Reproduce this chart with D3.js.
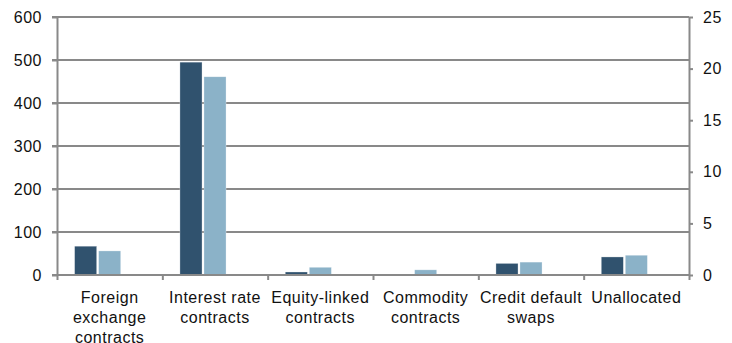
<!DOCTYPE html>
<html>
<head>
<meta charset="utf-8">
<script src="https://cdn.jsdelivr.net/npm/d3@7"></script>
<style>
  body { margin: 0; background: #fff; }
  svg text { font-family: "Liberation Sans", Arial, sans-serif; font-size: 16px; letter-spacing: 0.5px; fill: #111; }
  .axis path, .axis line { stroke: #898989; stroke-width: 2px; }
  .grid line { stroke: #898989; stroke-width: 2px; }
</style>
</head>
<body>
<div class="chart"></div>
<script>
const WIDTH = 732;
const HEIGHT = 343;

const LEFT = 57, RIGHT = 689, TOP = 17, BOTTOM = 275;

var categories = [
    ["Foreign", "exchange", "contracts"],
    ["Interest rate", "contracts"],
    ["Equity-linked", "contracts"],
    ["Commodity", "contracts"],
    ["Credit default", "swaps"],
    ["Unallocated"]
];
var seriesA = [67, 495, 7, 0, 27, 42];
var seriesB = [56, 461, 18, 12, 30, 46];
// third slot sits on the right axis and is empty in the picture
var seriesKeys = ["a", "b", "c"];
var colors = {a: "#30526e", b: "#8bb2c8"};

var leftTicks = [0, 100, 200, 300, 400, 500, 600];
var rightTicks = [0, 5, 10, 15, 20, 25];

var translate = function (x, y) {
    return "translate(" + x + "," + y + ")";
};

var _svg = d3.select('.chart').append('svg')
    .attr('width', WIDTH)
    .attr('height', HEIGHT);

var names = categories.map(function (c) { return c.join(" "); });

var x0 = d3.scaleBand().domain(names).range([LEFT, RIGHT]);
var x1 = d3.scaleBand().domain(seriesKeys)
    .range([17.6, x0.bandwidth() - 17.6])
    .paddingInner(0.08);
var yL = d3.scaleLinear().domain([0, 600]).range([BOTTOM, TOP]);
var yR = d3.scaleLinear().domain([0, 25]).range([BOTTOM, TOP]);

// gridlines
_svg.append('g').attr('class', 'grid')
    .selectAll('line').data(leftTicks.slice(1))
    .enter().append('line')
    .attr('x1', LEFT - 5).attr('x2', RIGHT)
    .attr('y1', yL).attr('y2', yL);

// bars
var rows = names.map(function (n, i) {
    return {name: n, vals: [{k: "a", v: seriesA[i]}, {k: "b", v: seriesB[i]}]};
});

var g = _svg.append('g');
g.selectAll('g').data(rows)
  .enter().append('g')
    .attr('transform', function (d) { return translate(x0(d.name), 0); })
  .selectAll('rect').data(function (d) { return d.vals; })
  .enter().append('rect')
    .attr('x', function (d) { return x1(d.k); })
    .attr('width', x1.bandwidth())
    .attr('y', function (d) { return yL(d.v); })
    .attr('height', function (d) { return BOTTOM - yL(d.v); })
    .attr('fill', function (d) { return colors[d.k]; })
    .attr('stroke', '#fff')
    .attr('stroke-opacity', 0.5)
    .attr('stroke-width', 0.6);

// left axis
_svg.append('g').attr('class', 'axis')
    .attr('transform', translate(LEFT, 0))
    .call(d3.axisLeft(yL).tickValues(leftTicks).tickSize(5).tickSizeOuter(0).tickPadding(10));

// right axis
_svg.append('g').attr('class', 'axis')
    .attr('transform', translate(RIGHT, 0))
    .call(d3.axisRight(yR).tickValues(rightTicks).tickSize(4).tickSizeOuter(0).tickPadding(10));

// bottom axis with boundary ticks
var xb = d3.scaleLinear().domain([0, names.length]).range([LEFT, RIGHT]);
var bottom = _svg.append('g').attr('class', 'axis')
    .attr('transform', translate(0, BOTTOM))
    .call(d3.axisBottom(xb).ticks(names.length).tickSize(5).tickSizeOuter(0).tickFormat(""));
bottom.select('.domain').attr('d', "M" + (LEFT - 5) + ",0H" + RIGHT);

// category labels
var labels = _svg.append('g');
categories.forEach(function (lines, i) {
    var cx = x0(names[i]) + x0.bandwidth() / 2;
    var t = labels.append('text')
        .attr('text-anchor', 'middle')
        .attr('x', cx)
        .attr('y', 302.5);
    lines.forEach(function (ln, j) {
        t.append('tspan')
            .attr('x', cx)
            .attr('dy', j === 0 ? 0 : 20)
            .text(ln);
    });
});
</script>
</body>
</html>
